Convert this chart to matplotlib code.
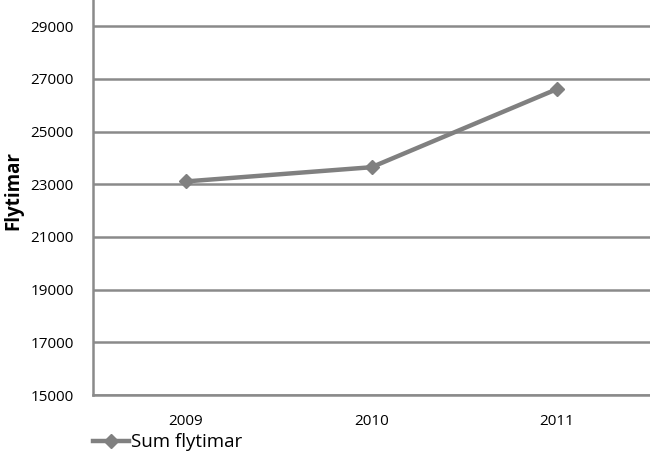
import matplotlib
matplotlib.use('Agg')
import matplotlib.pyplot as plt
from matplotlib.lines import Line2D

years = ['2009', '2010', '2011']
flytimar = [23110, 23650, 26620]

yticks = [15000, 17000, 19000, 21000, 23000, 25000, 27000, 29000]

plt.rcParams['font.family'] = ['Open Sans', 'DejaVu Sans']

fig = plt.figure(figsize=(6.5, 4.73), dpi=100)
ax = fig.add_axes([93 / 650, 78 / 473, 557 / 650, 395 / 473])

GRID = '#8a8a8a'
LINE = '#808080'

x = range(len(years))
ax.plot(x, flytimar, color=LINE, lw=3.2, marker='D', ms=7,
        markerfacecolor=LINE, markeredgecolor=LINE, solid_capstyle='round')

ax.set_xlim(-0.5, 2.5)
ax.set_ylim(15000, 30000)
ax.set_yticks(yticks)
ax.set_yticklabels([str(v) for v in yticks], fontsize=11)
ax.set_xticks(list(x))
ax.set_xticklabels(years, fontsize=11)
ax.tick_params(axis='y', length=0, pad=14)
ax.tick_params(axis='x', length=0, pad=14)

ax.yaxis.grid(True, color=GRID, lw=1.8)
ax.set_axisbelow(True)
for s in ['top', 'right']:
    ax.spines[s].set_visible(False)
for s in ['left', 'bottom']:
    ax.spines[s].set_color(GRID)
    ax.spines[s].set_linewidth(1.8)

# y label placed by hand, close to the left edge
fig.text(13 / 650, 1 - 190 / 473, 'Flytimar', rotation=90,
         ha='center', va='center', fontsize=13.5, fontweight='bold')

handle = Line2D([], [], color=LINE, lw=3.2, marker='D', ms=7)
fig.legend([handle], ['Sum flytimar'], loc='center left',
           bbox_to_anchor=(0.132, 0.065), frameon=False, fontsize=13.5,
           handlelength=1.9, handletextpad=0.1, borderaxespad=0)

fig.savefig('out.png', dpi=100)
